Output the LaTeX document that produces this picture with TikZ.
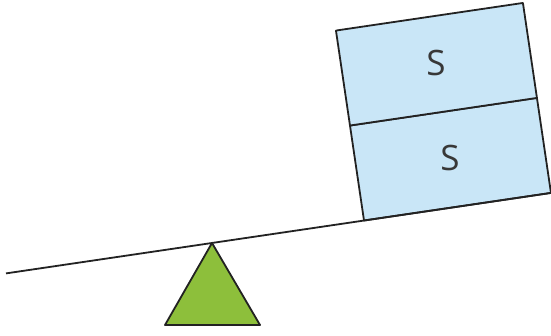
\documentclass[tikz,border=0pt]{standalone}
\usepackage{fontspec}
\setmainfont{Open Sans}
\definecolor{boxblue}{HTML}{C9E6F7}
\definecolor{fulgreen}{HTML}{8DBF3B}
\definecolor{ink}{HTML}{222222}
\begin{document}
\begin{tikzpicture}[x=1pt,y=-1pt,
  edge/.style={draw=ink,line width=1.8pt,line join=round},
  blockbox/.style={edge,fill=boxblue,minimum width=189pt,minimum height=96pt,inner sep=0pt,outer sep=0pt,rotate=8.4},
  lab/.style={font=\fontsize{35}{35}\selectfont,text=ink!90}]
\useasboundingbox (0,0) rectangle (551,336);
% beam
\coordinate (pivot) at (212,243);
\coordinate (bl) at (6,273.4);
\coordinate (br) at (560,191.6);
\coordinate (foot) at (364,220.5);
% blocks
\node[blockbox,anchor=south west] (low) at (foot) {};
\node[blockbox,anchor=south west] (up) at (low.north west) {};
\node[lab] (s1) at (436,63) {S};
\node[lab] (s2) at (450,158) {S};
\draw[edge] (bl) -- (br);
% fulcrum
\coordinate (tl) at (165,325);
\coordinate (tr) at (260,325);
\draw[edge,fill=fulgreen] (pivot) -- (tr) -- (tl) -- cycle;
\end{tikzpicture}
\end{document}
